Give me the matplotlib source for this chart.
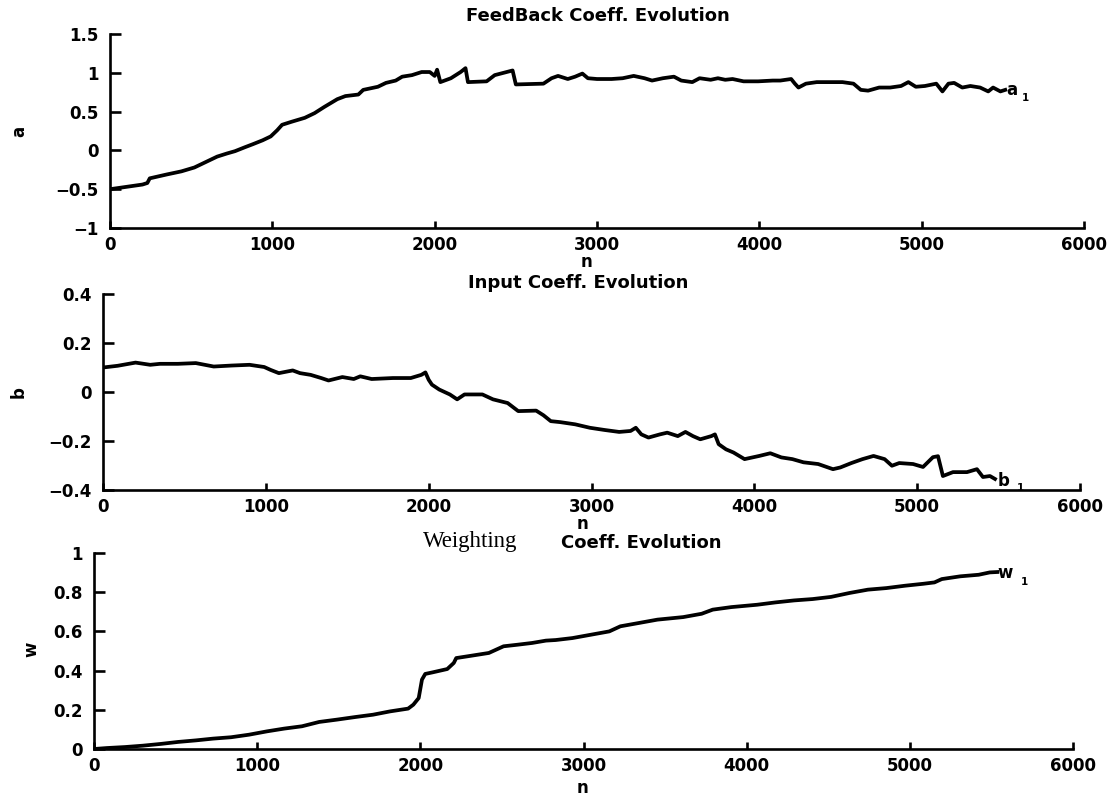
import matplotlib
matplotlib.use("Agg")
import matplotlib.pyplot as plt

# ---------------- data ----------------
n_a = [0, 100, 200, 230, 245, 350, 440, 520, 600, 660, 720, 770, 830, 880, 940, 990,
       1030, 1060, 1120, 1200, 1260, 1320, 1400, 1450, 1530, 1560, 1650, 1700, 1760,
       1800, 1860, 1920, 1970, 2000, 2015, 2035, 2100, 2160, 2190, 2205, 2320, 2370,
       2480, 2500, 2670, 2720, 2760, 2820, 2865, 2910, 2944, 3000, 3090, 3158, 3226,
       3293, 3339, 3406, 3474, 3519, 3587, 3632, 3700, 3745, 3790, 3835, 3903, 3993,
       4083, 4129, 4196, 4219, 4241, 4287, 4354, 4444, 4512, 4580, 4625, 4670, 4738,
       4806, 4873, 4918, 4964, 5020, 5090, 5128, 5165, 5200, 5250, 5300, 5360, 5410,
       5440, 5485, 5515]
a_vals = [-0.50, -0.47, -0.44, -0.42, -0.36, -0.31, -0.27, -0.22, -0.14, -0.08, -0.04,
          -0.01, 0.04, 0.08, 0.13, 0.18, 0.26, 0.33, 0.37, 0.42, 0.48, 0.56, 0.66, 0.70,
          0.72, 0.78, 0.82, 0.87, 0.90, 0.95, 0.97, 1.01, 1.01, 0.96, 1.04, 0.88, 0.93,
          1.01, 1.06, 0.88, 0.89, 0.97, 1.03, 0.85, 0.86, 0.93, 0.96, 0.92, 0.95, 0.99,
          0.93, 0.92, 0.92, 0.93, 0.96, 0.93, 0.90, 0.93, 0.95, 0.90, 0.88, 0.93, 0.91,
          0.93, 0.91, 0.92, 0.89, 0.89, 0.90, 0.90, 0.92, 0.86, 0.81, 0.86, 0.88, 0.88,
          0.88, 0.86, 0.78, 0.77, 0.81, 0.81, 0.83, 0.88, 0.82, 0.83, 0.86, 0.76, 0.86,
          0.87, 0.81, 0.83, 0.81, 0.76, 0.81, 0.76, 0.78]

n_b = [0, 90, 200, 290, 350, 460, 570, 680, 790, 900, 990, 1030, 1080, 1165, 1210, 1275,
       1340, 1385, 1470, 1540, 1580, 1650, 1780, 1890, 1955, 1980, 2000, 2020, 2065,
       2130, 2175, 2220, 2330, 2395, 2485, 2550, 2660, 2705, 2750, 2808, 2900, 2990,
       3080, 3170, 3240, 3272, 3306, 3350, 3420, 3465, 3530, 3577, 3623, 3668, 3736,
       3758, 3781, 3826, 3872, 3940, 4030, 4098, 4166, 4234, 4302, 4392, 4483, 4528,
       4596, 4664, 4732, 4800, 4845, 4890, 4975, 5036, 5097, 5128, 5158, 5220, 5306,
       5367, 5404, 5447, 5478]
b_vals = [0.100, 0.107, 0.120, 0.111, 0.115, 0.115, 0.118, 0.104, 0.108, 0.111, 0.102,
          0.090, 0.077, 0.088, 0.077, 0.070, 0.057, 0.047, 0.061, 0.053, 0.064, 0.053,
          0.057, 0.057, 0.070, 0.080, 0.050, 0.030, 0.010, -0.010, -0.030, -0.010,
          -0.010, -0.030, -0.045, -0.078, -0.076, -0.095, -0.119, -0.123, -0.132,
          -0.146, -0.155, -0.163, -0.159, -0.146, -0.173, -0.186, -0.173, -0.166,
          -0.180, -0.163, -0.180, -0.193, -0.180, -0.173, -0.213, -0.234, -0.247,
          -0.274, -0.261, -0.250, -0.267, -0.274, -0.287, -0.294, -0.315, -0.308,
          -0.290, -0.274, -0.261, -0.274, -0.301, -0.290, -0.294, -0.306, -0.266,
          -0.262, -0.343, -0.327, -0.327, -0.315, -0.347, -0.343, -0.355]

n_w = [0, 80, 190, 300, 410, 515, 625, 730, 840, 950, 1060, 1165, 1275, 1380, 1490,
       1600, 1710, 1815, 1925, 1957, 1990, 2010, 2030, 2075, 2165, 2205, 2220, 2290,
       2420, 2510, 2595, 2685, 2770, 2830, 2932, 3045, 3158, 3226, 3340, 3453, 3611,
       3724, 3792, 3906, 4064, 4177, 4290, 4404, 4517, 4630, 4743, 4856, 4970, 5083,
       5151, 5196, 5309, 5422, 5490, 5536]
w_vals = [0.0, 0.005, 0.010, 0.017, 0.026, 0.036, 0.044, 0.053, 0.060, 0.073, 0.090,
          0.104, 0.116, 0.138, 0.150, 0.163, 0.175, 0.192, 0.206, 0.226, 0.260, 0.354,
          0.383, 0.391, 0.408, 0.439, 0.464, 0.473, 0.490, 0.524, 0.532, 0.541, 0.553,
          0.556, 0.566, 0.583, 0.600, 0.626, 0.643, 0.660, 0.673, 0.690, 0.711, 0.724,
          0.736, 0.748, 0.758, 0.765, 0.776, 0.796, 0.813, 0.821, 0.833, 0.843, 0.850,
          0.867, 0.881, 0.889, 0.901, 0.903]

x_ticks = [0, 1000, 2000, 3000, 4000, 5000, 6000]
x_ticklabels = ["0", "1000", "2000", "3000", "4000", "5000", "6000"]
a_ticks = [-1, -0.5, 0, 0.5, 1, 1.5]
a_ticklabels = ["\u22121", "\u22120.5", "0", "0.5", "1", "1.5"]
b_ticks = [-0.4, -0.2, 0, 0.2, 0.4]
b_ticklabels = ["\u22120.4", "\u22120.2", "0", "0.2", "0.4"]
w_ticks = [0, 0.2, 0.4, 0.6, 0.8, 1]
w_ticklabels = ["0", "0.2", "0.4", "0.6", "0.8", "1"]

# ---------------- figure ----------------
W, H = 1114, 797
fig = plt.figure(figsize=(W / 100, H / 100), dpi=100)
fig.patch.set_facecolor("white")

SANS = "DejaVu Sans"
TICK_FS = 12
LW_SPINE = 1.9
LW_LINE = 2.7


def px_axes(left, right, top, bottom):
    return fig.add_axes([left / W, 1 - bottom / H, (right - left) / W, (bottom - top) / H])


def style(ax, yticks, ylabels, ylim):
    ax.set_xlim(0, 6000)
    ax.set_ylim(*ylim)
    for s in ("top", "right"):
        ax.spines[s].set_visible(False)
    for s in ("left", "bottom"):
        ax.spines[s].set_linewidth(LW_SPINE)
    ax.set_xticks(x_ticks)
    ax.set_xticklabels(x_ticklabels, fontsize=TICK_FS, fontweight="bold", family=SANS)
    ax.set_yticks(yticks)
    ax.set_yticklabels(ylabels, fontsize=TICK_FS, fontweight="bold", family=SANS)
    ax.tick_params(axis="y", direction="in", length=8, width=LW_SPINE, pad=8)
    ax.tick_params(axis="x", direction="in", length=5, width=LW_SPINE, pad=6)
    ax.patch.set_alpha(0)


# top: feedback coefficient
ax1 = px_axes(110, 1084, 34, 228)
ax1.plot(n_a, a_vals, color="black", lw=LW_LINE, solid_joinstyle="round")
style(ax1, a_ticks, a_ticklabels, (-1, 1.5))
ax1.text(5556, 0.78, "a", fontsize=12, fontweight="bold", ha="center", va="center", family=SANS)
ax1.text(5640, 0.68, "1", fontsize=7.5, fontweight="bold", ha="center", va="center", family=SANS)

# middle: input coefficient
ax2 = px_axes(103, 1080, 294, 490)
ax2.plot(n_b, b_vals, color="black", lw=LW_LINE, solid_joinstyle="round")
style(ax2, b_ticks, b_ticklabels, (-0.4, 0.4))
ax2.text(5530, -0.363, "b", fontsize=12, fontweight="bold", ha="center", va="center", family=SANS)
ax2.text(5635, -0.39, "1", fontsize=7.5, fontweight="bold", ha="center", va="center", family=SANS)

# bottom: weighting coefficient
ax3 = px_axes(94, 1073, 553, 749)
ax3.plot(n_w, w_vals, color="black", lw=LW_LINE, solid_joinstyle="round")
style(ax3, w_ticks, w_ticklabels, (0, 1))
ax3.text(5583, 0.897, "w", fontsize=12, fontweight="bold", ha="center", va="center", family=SANS)
ax3.text(5705, 0.85, "1", fontsize=7.5, fontweight="bold", ha="center", va="center", family=SANS)


def ftext(x, y, s, **kw):
    fig.text(x / W, 1 - y / H, s, **kw)


# titles
ftext(598, 16, "FeedBack Coeff. Evolution", fontsize=13, fontweight="bold",
      ha="center", va="center", family=SANS)
ftext(578, 283, "Input Coeff. Evolution", fontsize=13, fontweight="bold",
      ha="center", va="center", family=SANS)
ftext(470, 542, "Weighting", fontsize=16.5, ha="center", va="center", family="Liberation Serif")
ftext(641, 543, "Coeff. Evolution", fontsize=13, fontweight="bold",
      ha="center", va="center", family=SANS)

# x labels
for (x, y) in [(586, 262), (582, 524), (582, 788)]:
    ftext(x, y, "n", fontsize=12, fontweight="bold", ha="center", va="center", family=SANS)

# y labels
ftext(19, 131, "a", fontsize=12, fontweight="bold", ha="center", va="center",
      rotation=90, family=SANS)
ftext(19, 392, "b", fontsize=12, fontweight="bold", ha="center", va="center",
      rotation=90, family=SANS)
ftext(31, 649, "w", fontsize=12, fontweight="bold", ha="center", va="center",
      rotation=90, family=SANS)

fig.savefig("out.png", dpi=100, facecolor="white")
